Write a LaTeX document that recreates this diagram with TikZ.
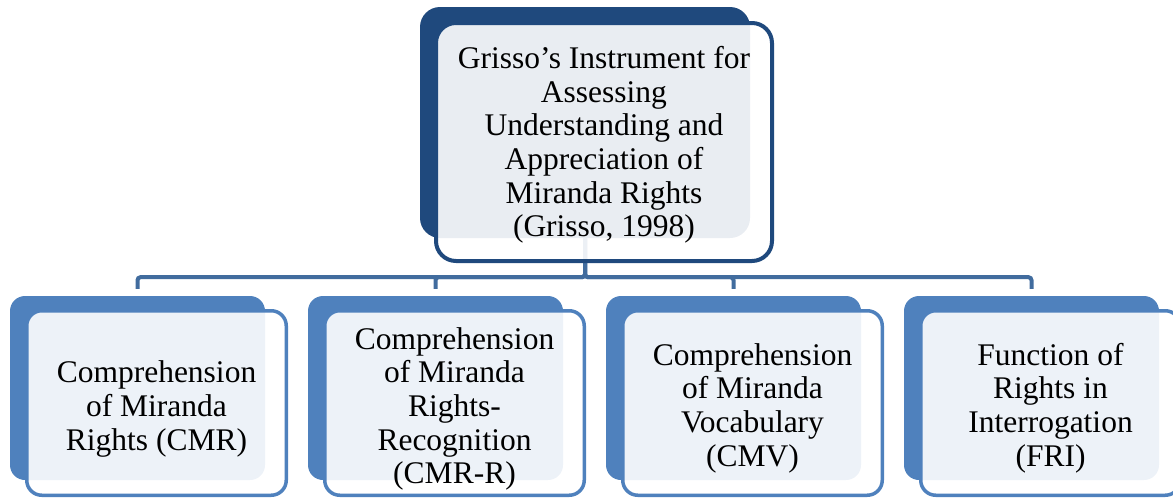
\documentclass[tikz,border=0pt]{standalone}
\usepackage{fontspec}
\setmainfont{Liberation Serif}
\definecolor{dkblue}{RGB}{31,73,125}
\definecolor{mdblue}{RGB}{79,129,189}
\definecolor{connblue}{RGB}{65,108,158}
\begin{document}
\begin{tikzpicture}[x=1pt,y=-1pt,
  topback/.style={fill=dkblue, rounded corners=20pt, minimum width=330pt, minimum height=231pt, inner sep=0pt},
  topfront/.style={draw=dkblue, line width=4pt, fill=white, fill opacity=0.9, rounded corners=20pt, minimum width=336pt, minimum height=238pt, inner sep=0pt},
  subback/.style={fill=mdblue, rounded corners=15pt, minimum width=255pt, minimum height=184pt, inner sep=0pt},
  subfront/.style={draw=mdblue, line width=3.5pt, fill=white, fill opacity=0.9, rounded corners=15pt, minimum width=259.5pt, minimum height=184.5pt, inner sep=0pt},
  lbl/.style={align=center, font=\fontsize{31.5}{33.7}\selectfont, text=black, inner sep=0pt},
  conn/.style={draw=connblue, line width=4pt, rounded corners=3pt, shorten >=7pt}
]
\useasboundingbox (0,0) rectangle (1173,498);
% back shapes
\node[topback] (tb) at (585,122.5) {};
\node[subback] (b1) at (137.5,388) {};
\node[subback] (b2) at (435.5,388) {};
\node[subback] (b3) at (733.5,388) {};
\node[subback] (b4) at (1031.5,388) {};
% connectors
\foreach \b in {b1,b2,b3,b4}{
  \draw[conn] (tb.south) -- ++(0,39) -| (\b.north);
}
% front shapes
\node[topfront] (tf) at (604,142) {};
\node[subfront] (f1) at (156.5,403) {};
\node[subfront] (f2) at (454.5,403) {};
\node[subfront] (f3) at (752.5,403) {};
\node[subfront] (f4) at (1050.5,403) {};
% labels
\node[lbl] (t0) at (604,145) {Grisso’s Instrument for\\Assessing\\Understanding and\\Appreciation of\\Miranda Rights\\(Grisso, 1998)};
\node[lbl] (t1) at (156.5,409) {Comprehension\\of Miranda\\Rights (CMR)};
\node[lbl] (t2) at (454.5,409) {Comprehension\\of Miranda\\Rights-\\Recognition\\(CMR-R)};
\node[lbl] (t3) at (752.5,408) {Comprehension\\of Miranda\\Vocabulary\\(CMV)};
\node[lbl] (t4) at (1050.5,408) {Function of\\Rights in\\Interrogation\\(FRI)};
\end{tikzpicture}
\end{document}
